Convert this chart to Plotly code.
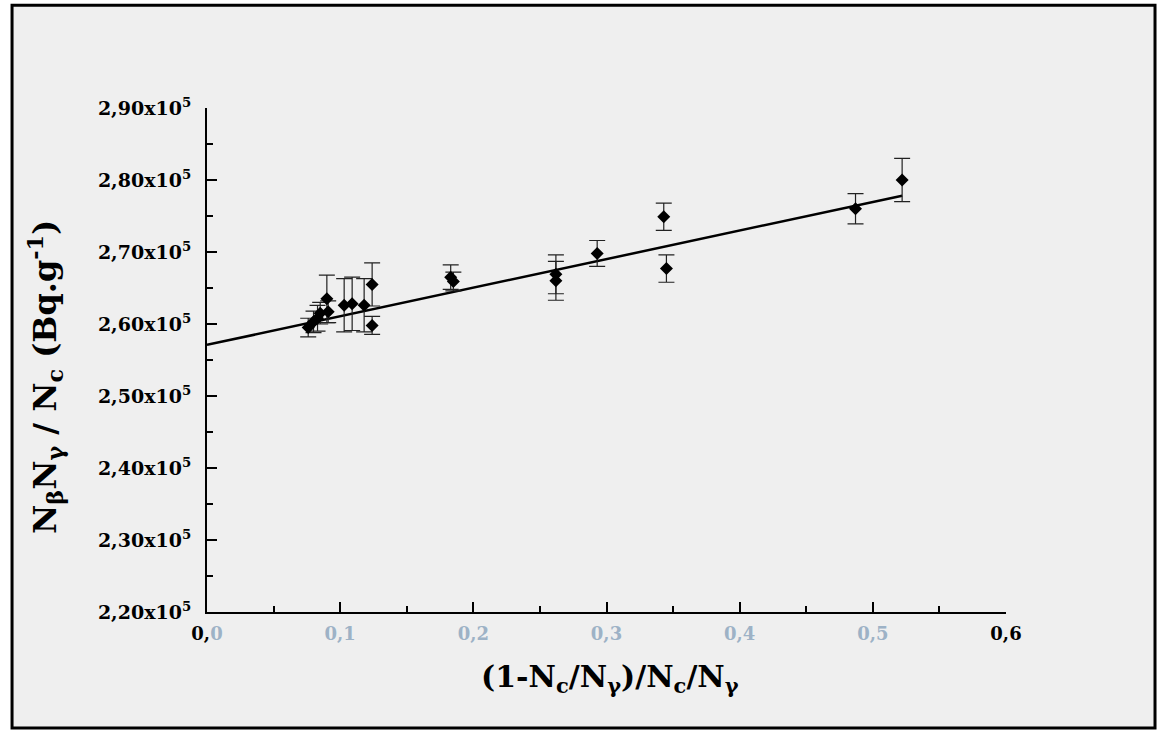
import plotly.graph_objects as go

# data
x_vals = [0.076, 0.080, 0.083, 0.085, 0.090, 0.091, 0.103, 0.109, 0.118, 0.124, 0.124,
          0.183, 0.185, 0.262, 0.262, 0.293, 0.343, 0.345, 0.487, 0.522]
y_vals = [259500, 260300, 260800, 261500, 263500, 261700, 262600, 262800, 262600, 265500, 259800,
          266500, 265900, 266900, 266000, 269800, 274900, 267700, 276000, 280000]
y_err = [1300, 1500, 1800, 1500, 3300, 1500, 3700, 3700, 3700, 3000, 1250,
         1700, 1300, 2700, 2700, 1800, 1900, 1900, 2100, 3000]

fit_intercept = 257100
fit_slope = 39700
fit_x = [0.0, 0.522]
fit_y = [fit_intercept + fit_slope * v for v in fit_x]

y_tick_vals = [220000, 230000, 240000, 250000, 260000, 270000, 280000, 290000]
y_tick_text = ["2,20x10<sup>5</sup>", "2,30x10<sup>5</sup>", "2,40x10<sup>5</sup>", "2,50x10<sup>5</sup>",
               "2,60x10<sup>5</sup>", "2,70x10<sup>5</sup>", "2,80x10<sup>5</sup>", "2,90x10<sup>5</sup>"]
x_tick_vals = [0.0, 0.1, 0.2, 0.3, 0.4, 0.5, 0.6]
faded = "#9db2c6"
x_tick_text = ["0,<span style='color:%s'>0</span>" % faded,
               "<span style='color:%s'>0,1</span>" % faded,
               "<span style='color:%s'>0,2</span>" % faded,
               "<span style='color:%s'>0,3</span>" % faded,
               "<span style='color:%s'>0,4</span>" % faded,
               "<span style='color:%s'>0,5</span>" % faded,
               "0,6"]

fig = go.Figure()
fig.add_trace(go.Scatter(x=fit_x, y=fit_y, mode="lines",
                         line=dict(color="black", width=2.5), showlegend=False, hoverinfo="skip"))
fig.add_trace(go.Scatter(x=x_vals, y=y_vals, mode="markers",
                         marker=dict(symbol="diamond", size=10, color="black"),
                         error_y=dict(type="data", array=y_err, visible=True, color="#222222",
                                      thickness=1.2, width=8),
                         showlegend=False))

# outer framed background
fig.add_shape(type="rect", xref="paper", yref="paper",
              x0=-0.244, x1=1.1865, y0=-0.230, y1=1.204,
              line=dict(color="black", width=3), fillcolor="#efefef", layer="below")

serif = "DejaVu Serif"
fig.update_layout(
    width=1164, height=731,
    margin=dict(l=207, r=158, t=108, b=119),
    paper_bgcolor="white", plot_bgcolor="rgba(0,0,0,0)",
    font=dict(family=serif, color="black"),
    xaxis=dict(range=[0, 0.6], tickvals=x_tick_vals, ticktext=x_tick_text,
               showgrid=False, zeroline=False, showline=True, linecolor="black", linewidth=2,
               ticks="inside", ticklen=10, tickwidth=2, tickcolor="black",
               minor=dict(dtick=0.05, ticks="inside", ticklen=6, tickwidth=2, tickcolor="black"),
               tickfont=dict(family=serif, size=18, weight="bold", color="black"),
               ticklabelstandoff=4),
    yaxis=dict(range=[220000, 290000], tickvals=y_tick_vals, ticktext=y_tick_text,
               showgrid=False, zeroline=False, showline=True, linecolor="black", linewidth=2,
               ticks="inside", ticklen=10, tickwidth=2, tickcolor="black",
               minor=dict(dtick=5000, tick0=220000, ticks="inside", ticklen=6, tickwidth=2, tickcolor="black"),
               tickfont=dict(family=serif, size=19, weight="bold", color="black"),
               ticklabelstandoff=10),
    annotations=[
        dict(text="N<sub>β</sub>N<sub>γ</sub> / N<sub>c</sub> (Bq.g<sup>-1</sup>)",
             xref="paper", yref="paper", x=-0.203, y=0.466, xanchor="center", yanchor="middle",
             showarrow=False, textangle=-90,
             font=dict(family=serif, size=32, weight="bold", color="black")),
        dict(text="(1-N<sub>c</sub>/N<sub>γ</sub>)/N<sub>c</sub>/N<sub>γ</sub>",
             xref="paper", yref="paper", x=0.504, y=-0.131, xanchor="center", yanchor="middle",
             showarrow=False,
             font=dict(family=serif, size=30, weight="bold", color="black")),
    ],
)

fig.write_html("out.html")
